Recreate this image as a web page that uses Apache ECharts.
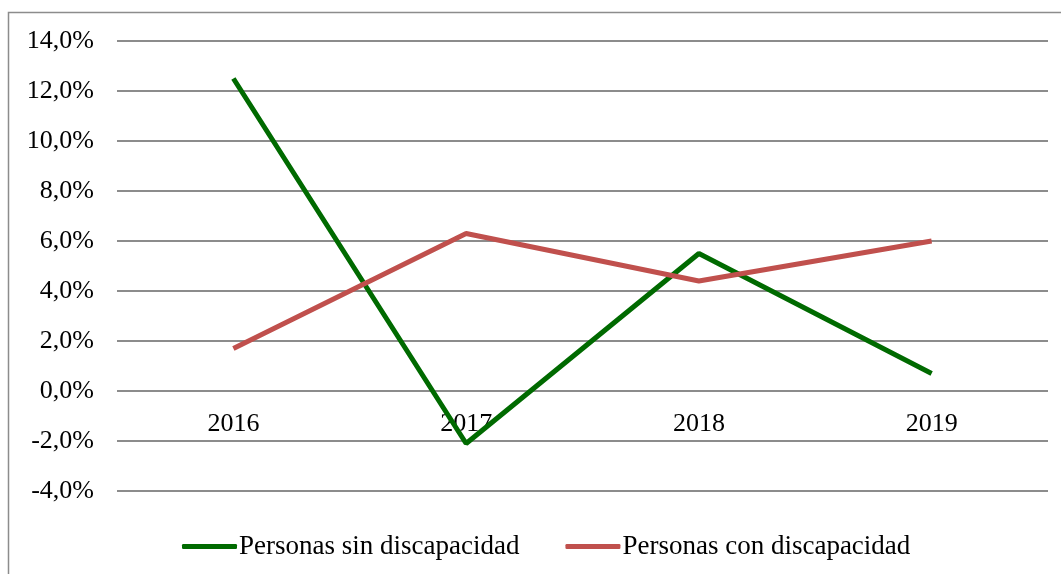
<!DOCTYPE html>
<html><head><meta charset="utf-8">
<script src="https://cdn.jsdelivr.net/npm/echarts@6/dist/echarts.min.js"></script>
<style>html,body{margin:0;padding:0;background:#fff}#c{width:1061px;height:574px}</style>
</head><body><div id="c"></div>
<script>
const categories = ['2016','2017','2018','2019'];
const sinDiscapacidad = [12.5, -2.1, 5.5, 0.7];
const conDiscapacidad = [1.7, 6.3, 4.4, 6.0];
const seriesNames = ['Personas sin discapacidad','Personas con discapacidad'];

const chart = echarts.init(document.getElementById('c'));
const font = 'Liberation Serif';
chart.setOption({
  animation: false,
  backgroundColor: '#fff',
  graphic: [{type:'rect', shape:{x:8.5,y:12.5,width:1060,height:570}, style:{fill:'none', stroke:'#8c8c8c', lineWidth:1.5}, silent:true}],
  grid: {left:117, right:13, top:41, bottom:83},
  legend: {
    bottom: 9, left: 177, itemWidth: 55, itemHeight: 5, itemGap: 46,
    icon: 'roundRect',
    textStyle: {fontFamily: font, fontSize: 27, color: '#000', padding: [0,0,0,-3]},
    data: seriesNames
  },
  xAxis: {
    type: 'category', data: categories, boundaryGap: true, position: 'bottom', offset: -100,
    axisLine: {show:false, onZero:false}, axisTick: {show:false},
    axisLabel: {fontFamily: font, fontSize: 26, color: '#000', margin: 20}
  },
  yAxis: {
    type: 'value', min: -4, max: 14, interval: 2,
    axisLine: {show:false}, axisTick: {show:false},
    axisLabel: {fontFamily: font, fontSize: 26, color: '#000', margin: 23,
      formatter: v => v.toFixed(1).replace('.', ',') + '%'},
    splitLine: {lineStyle: {color: '#8c8c8c', width: 2}}
  },
  series: [
    {name: seriesNames[0], type: 'line', data: sinDiscapacidad, symbol: 'none',
     lineStyle: {color: '#006a00', width: 5}, itemStyle: {color: '#006a00'}},
    {name: seriesNames[1], type: 'line', data: conDiscapacidad, symbol: 'none',
     lineStyle: {color: '#c0504d', width: 5}, itemStyle: {color: '#c0504d'}}
  ]
});
</script></body></html>
